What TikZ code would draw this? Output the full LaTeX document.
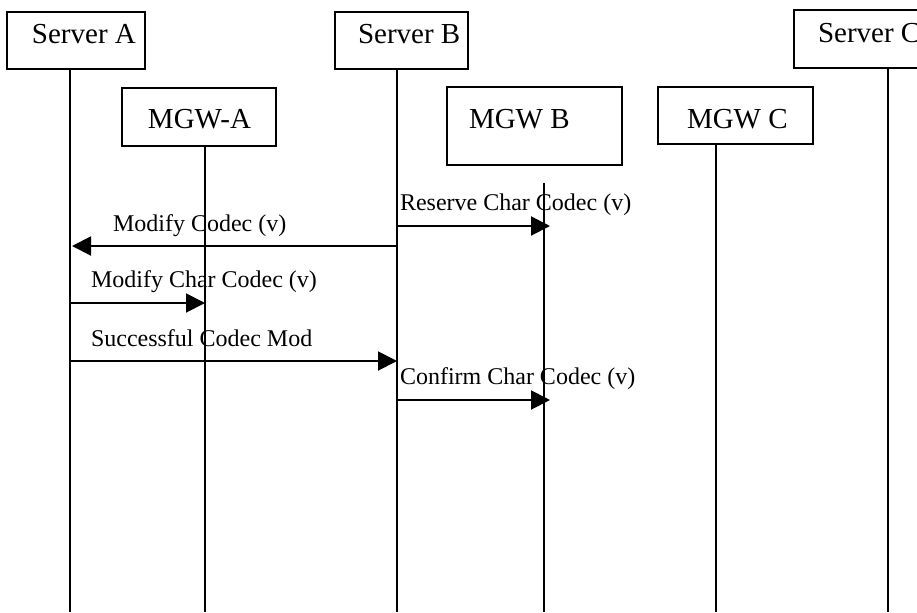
\documentclass[tikz,border=0pt]{standalone}
\usepackage{fontspec}
\setmainfont{Liberation Serif}
\usetikzlibrary{arrows.meta}
\begin{document}
\begin{tikzpicture}[x=0.5pt,y=-0.5pt,line width=1pt,
	box/.style={draw,rectangle,inner sep=0},
	who/.style={anchor=base west,inner sep=0,font=\fontsize{14.5}{17}\selectfont},
	msgtext/.style={anchor=base west,inner sep=0,font=\fontsize{12}{14}\selectfont},
	msg/.style={-{Triangle[length=9.5pt,width=9.5pt]}}]
\useasboundingbox (0,0) rectangle (917,612);
\node[box,minimum width=69pt,minimum height=28.5pt] (srvA) at (76,40.5) {};
\node[box,minimum width=77pt,minimum height=29pt] (mgwA) at (199,117) {};
\node[box,minimum width=66.5pt,minimum height=28.5pt] (srvB) at (401.5,40.5) {};
\node[box,minimum width=87.5pt,minimum height=39pt] (mgwB) at (534.5,126) {};
\node[box,minimum width=77.5pt,minimum height=28.5pt] (mgwC) at (735.5,115.5) {};
\node[box,minimum width=73pt,minimum height=29pt] (srvC) at (867,39) {};
\node[who] (srvAtxt) at (31,43) {Server A};
\node[who] (mgwAtxt) at (147,128) {MGW-A};
\node[who] (srvBtxt) at (357,43) {Server B};
\node[who] (mgwBtxt) at (468,128) {MGW B};
\node[who] (mgwCtxt) at (686,128) {MGW C};
\node[who] (srvCtxt) at (817,42) {Server C};
% lifelines
\coordinate (xA) at (70,612);
\coordinate (xMA) at (205,612);
\coordinate (xB) at (397,612);
\coordinate (tMB) at (544,183);
\coordinate (xMB) at (544,612);
\coordinate (xMC) at (716,612);
\coordinate (xC) at (888,612);
\draw (srvA.south -| xA)--(xA);
\draw (mgwA.south -| xMA)--(xMA);
\draw (srvB.south -| xB)--(xB);
\draw (tMB)--(xMB);
\draw (mgwC.south -| xMC)--(xMC);
\draw (srvC.south -| xC)--(xC);
% messages
\coordinate (m1) at (0,226);
\coordinate (m2) at (0,246);
\coordinate (m3) at (0,303);
\coordinate (m4) at (0,361);
\coordinate (m5) at (0,400);
\draw [msg](xB |- m1)--([xshift=3pt]xMB |- m1);
\node[msgtext] (l1) at (399,210) {Reserve Char Codec (v)};
\draw [msg](xB |- m2)--([xshift=1pt]xA |- m2);
\node[msgtext] (l2) at (112,231) {Modify Codec (v)};
\draw [msg](xA |- m3)--(xMA |- m3);
\node[msgtext] (l3) at (90,287) {Modify Char Codec (v)};
\draw [msg](xA |- m4)--(xB |- m4);
\node[msgtext] (l4) at (90,346) {Successful Codec Mod};
\draw [msg](xB |- m5)--([xshift=3pt]xMB |- m5);
\node[msgtext] (l5) at (399,384) {Confirm Char Codec (v)};
\end{tikzpicture}
\end{document}
